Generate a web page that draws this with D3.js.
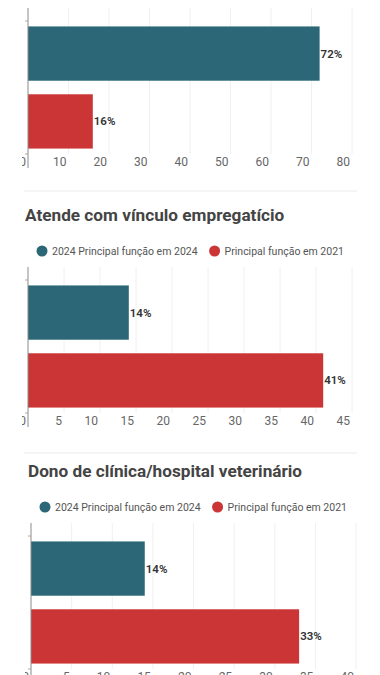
<!DOCTYPE html>
<html>
<head>
<meta charset="utf-8">
<script src="https://cdn.jsdelivr.net/npm/d3@7"></script>
<style>
  body { margin: 0; background: #fff; overflow: hidden; }
  svg { display: block; font-family: Roboto, "Noto Sans", sans-serif; }
</style>
</head>
<body>
<div class="chart"></div>
<script>
// values
const panelTitles = [null, "Atende com vínculo empregatício", "Dono de clínica/hospital veterinário"];
const seriesNames = ["2024 Principal função em 2024", "Principal função em 2021"];
const values2024 = [72, 14, 14];
const values2021 = [16, 41, 33];
const axisMax = [80, 45, 40];
const tickStep = [10, 5, 5];

const colors = ["#2b6777", "#cc3535"];

const W = 380, H = 675;
const svg = d3.select(".chart").append("svg")
    .attr("width", W)
    .attr("height", H);

// layout of each panel: top of the axis line and left offset
const panels = [
    { top: 8, x0: 28, x1: 352 },
    { top: 267, x0: 28, x1: 352 },
    { top: 523, x0: 31, x1: 356 }
];

// separators between panels
[191, 453].forEach(y => {
    svg.append("line")
        .attr("x1", 24).attr("x2", 357)
        .attr("y1", y).attr("y2", y)
        .attr("stroke", "#ececec")
        .attr("stroke-width", 1.2);
});

panels.forEach((p, i) => {
    const g = svg.append("g");
    const T = p.top;

    const x = d3.scaleLinear()
        .domain([0, axisMax[i]])
        .range([p.x0, p.x1]);

    const y = d3.scaleBand()
        .domain(seriesNames)
        .range([T + 13, T + 146])
        .paddingInner(0.2)
        .paddingOuter(0.08);

    const ticks = d3.range(0, axisMax[i] + 0.001, tickStep[i]);

    // title + legend (panel 1 is cut off at the top of the picture)
    if (panelTitles[i]) {
        g.append("text")
            .attr("x", p.x0 - 3)
            .attr("y", T - 46)
            .attr("font-size", 17.2)
            .attr("font-weight", 700)
            .attr("fill", "#444")
            .text(panelTitles[i]);

        const leg = g.append("g").attr("transform", `translate(${p.x0 + 14},${T - 16})`);
        let lx = 0;
        seriesNames.forEach((s, k) => {
            leg.append("circle")
                .attr("cx", lx).attr("cy", 0).attr("r", 5.5)
                .attr("fill", colors[k]);
            const t = leg.append("text")
                .attr("x", lx + 10)
                .attr("y", 0)
                .attr("dy", "0.35em")
                .attr("font-size", 10.5)
                .attr("fill", "#555")
                .text(s);
            lx += 10 + t.node().getComputedTextLength() + 17;
        });
    }

    // grid
    g.selectAll(".grid")
        .data(ticks.slice(1))
        .join("line")
        .attr("x1", d => x(d)).attr("x2", d => x(d))
        .attr("y1", T).attr("y2", T + 146)
        .attr("stroke", "#f0f0f0");

    // bars
    const vals = [values2024[i], values2021[i]];
    g.selectAll(".bar")
        .data(vals)
        .join("rect")
        .attr("x", x(0))
        .attr("y", (d, k) => y(seriesNames[k]))
        .attr("width", d => x(d) - x(0))
        .attr("height", y.bandwidth())
        .attr("fill", (d, k) => colors[k]);

    g.selectAll(".lbl")
        .data(vals)
        .join("text")
        .attr("x", d => x(d) + 1)
        .attr("y", (d, k) => y(seriesNames[k]) + y.bandwidth() / 2)
        .attr("dy", "0.35em")
        .attr("font-size", 11.5)
        .attr("font-weight", 600)
        .attr("fill", "#333")
        .text(d => d + "%");

    // y axis line + small ticks at band edges
    g.append("line")
        .attr("x1", x(0)).attr("x2", x(0))
        .attr("y1", T).attr("y2", T + 160)
        .attr("stroke", "#8a8a8a");
    y.range().forEach(v => {
        g.append("line")
            .attr("x1", x(0) - 3).attr("x2", x(0))
            .attr("y1", v).attr("y2", v)
            .attr("stroke", "#b9a596");
    });

    // x axis labels; the "0" is half hidden at the left edge like in the picture
    const clipId = "clip" + i;
    svg.append("clipPath").attr("id", clipId)
        .append("rect")
        .attr("x", x(0) - 6).attr("y", T + 140)
        .attr("width", 360).attr("height", 40);

    const xAxis = d3.axisBottom(x).tickValues(ticks).tickSize(0).tickPadding(0);
    const ax = g.append("g")
        .attr("clip-path", `url(#${clipId})`)
        .append("g")
        .attr("transform", `translate(0,${T + 149})`)
        .call(xAxis);
    ax.select(".domain").remove();
    ax.selectAll("text")
        .attr("text-anchor", "end")
        .attr("dx", -2.5)
        .attr("font-size", 12)
        .attr("font-family", "Roboto, sans-serif")
        .attr("fill", "#666");
});
</script>
</body>
</html>
